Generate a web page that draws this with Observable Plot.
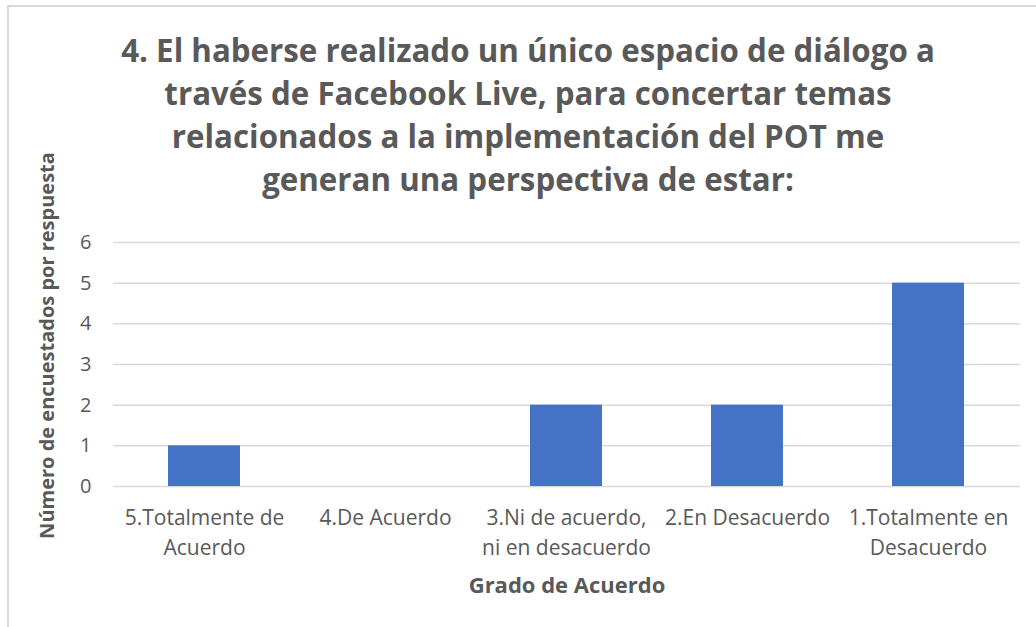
<!DOCTYPE html>
<html><head><meta charset="utf-8">
<script src="https://cdn.jsdelivr.net/npm/d3@7"></script>
<script src="https://cdn.jsdelivr.net/npm/@observablehq/plot@0.6"></script>
<style>
body{margin:0;background:#fff;}
#wrap{position:relative;width:1036px;height:627px;overflow:hidden;font-family:"Open Sans",sans-serif;}
#frame{position:absolute;left:7px;top:5px;width:1100px;height:700px;border:2px solid #d9d9d9;box-sizing:border-box;}
#title{position:absolute;left:8px;width:1040px;top:29px;text-align:center;font-weight:bold;font-size:31.3px;line-height:43px;color:#595959;}
#chart{position:absolute;left:0;top:0;}
</style></head>
<body>
<div id="wrap">
<div id="frame"></div>
<div id="title">4. El haberse realizado un único espacio de diálogo a<br>través de Facebook Live, para concertar temas<br>relacionados a la implementación del POT me<br>generan una perspectiva de estar:</div>
<div id="chart"></div>
</div>
<script>
const categories = ["5.Totalmente de\nAcuerdo", "4.De Acuerdo", "3.Ni de acuerdo,\nni en desacuerdo", "2.En Desacuerdo", "1.Totalmente en\nDesacuerdo"];
const values = [1, 0, 2, 2, 5];
const yTicks = [0, 1, 2, 3, 4, 5, 6];
const xTitle = "Grado de Acuerdo";
const yTitle = "Número de encuestados por respuesta";

const data = categories.map((c, i) => ({cat: c, val: values[i]}));

const plot = Plot.plot({
  width: 1036,
  height: 627,
  marginLeft: 113,
  marginRight: 16,
  marginTop: 242,
  marginBottom: 141,
  style: {fontFamily: "'Open Sans', sans-serif", fontSize: "20px", color: "#595959", background: "transparent"},
  x: {domain: categories, paddingInner: 0.6, paddingOuter: 0.3},
  y: {domain: [0, 6]},
  marks: [
    Plot.gridY(yTicks, {stroke: "#d9d9d9", strokeOpacity: 1, strokeWidth: 1.5}),
    Plot.barY(data, {x: "cat", y: "val", fill: "#4472C4"}),
    Plot.axisY(yTicks, {tickSize: 0, tickPadding: 22, label: null, fontSize: 20, fill: "#595959"}),
    Plot.axisX({tickSize: 0, tickPadding: 17, label: null, fontSize: 21, lineHeight: 1.43, fill: "#595959"}),
    Plot.text([xTitle], {frameAnchor: "bottom", dy: 106, fontWeight: "bold", fontSize: 22, fill: "#595959"}),
    Plot.text([yTitle], {frameAnchor: "left", textAnchor: "middle", dx: -66, dy: -19, rotate: -90, fontWeight: "bold", fontSize: 20, fill: "#595959"})
  ]
});
document.getElementById("chart").appendChild(plot);
</script>
</body></html>
